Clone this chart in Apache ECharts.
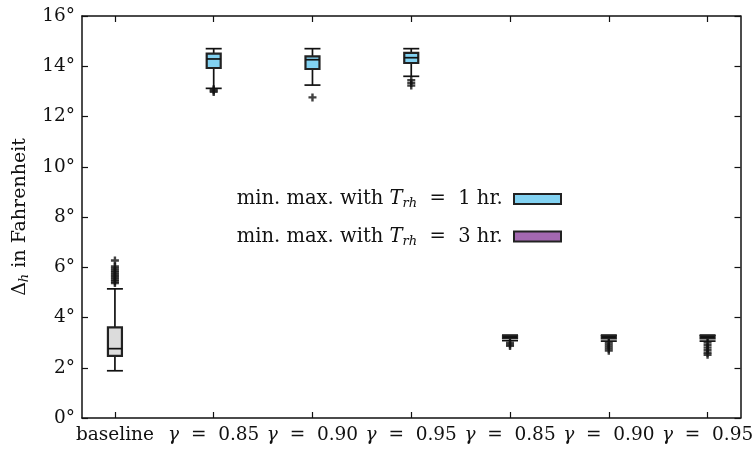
<!DOCTYPE html>
<html>
<head>
<meta charset="utf-8">
<script src="https://cdn.jsdelivr.net/npm/echarts@6/dist/echarts.min.js"></script>
<style>
  html, body { margin: 0; padding: 0; background: #fff; }
  #chart { width: 753px; height: 452px; }
</style>
</head>
<body>
<div id="chart"></div>
<script>
// 카테고리 (x 위치 1..7)
const categories = ['baseline', 'γ = 0.85', 'γ = 0.90', 'γ = 0.95', 'γ = 0.85', 'γ = 0.90', 'γ = 0.95'];
const positions = [1, 2, 3, 4, 5, 6, 7];

// [x, lowWhisker, q1, median, q3, highWhisker]
const baselineBox = [[1, 1.88, 2.47, 2.76, 3.61, 5.14]];
const oneHourBoxes = [
  [2, 13.12, 13.93, 14.29, 14.5, 14.7],
  [3, 13.25, 13.89, 14.26, 14.39, 14.7],
  [4, 13.6, 14.13, 14.34, 14.53, 14.7]
];
const threeHourBoxes = [
  [5, 3.08, 3.18, 3.22, 3.26, 3.3],
  [6, 3.06, 3.17, 3.22, 3.26, 3.3],
  [7, 3.06, 3.17, 3.22, 3.26, 3.3]
];

// 이상치 [x, y]
const baselineOutliers = [[1, 6.27], [1, 6.03], [1, 5.95], [1, 5.87], [1, 5.8], [1, 5.72], [1, 5.65], [1, 5.58], [1, 5.5], [1, 5.43], [1, 5.37]];
const oneHourOutliers = [[2, 13.08], [2, 13.03], [2, 12.98], [3, 12.76], [4, 13.44], [4, 13.33], [4, 13.23]];
const threeHourOutliers = [
  [5, 3.0], [5, 2.93], [5, 2.87],
  [6, 3.0], [6, 2.92], [6, 2.84], [6, 2.76], [6, 2.68],
  [7, 3.0], [7, 2.9], [7, 2.8], [7, 2.7], [7, 2.6], [7, 2.52]
];

const FONT = 'DejaVu Serif';
const PLUS = 'path://M3.5,0H6.5V3.5H10V6.5H6.5V10H3.5V6.5H0V3.5H3.5Z';
const EQ = '  =  ';

/**
 * 박스플롯 하나 그리기
 */
function renderBox(params, api) {
  const x = api.value(0);
  const lo = api.coord([x, api.value(1)]);
  const q1 = api.coord([x, api.value(2)]);
  const med = api.coord([x, api.value(3)]);
  const q3 = api.coord([x, api.value(4)]);
  const hi = api.coord([x, api.value(5)]);
  const fill = api.visual('color');
  const hw = 7;
  const cw = 8;
  const line = { stroke: '#111', lineWidth: 1.7 };
  return {
    type: 'group',
    children: [
      { type: 'line', shape: { x1: lo[0], y1: lo[1], x2: q1[0], y2: q1[1] }, style: line },
      { type: 'line', shape: { x1: q3[0], y1: q3[1], x2: hi[0], y2: hi[1] }, style: line },
      { type: 'line', shape: { x1: lo[0] - cw, y1: lo[1], x2: lo[0] + cw, y2: lo[1] }, style: line },
      { type: 'line', shape: { x1: hi[0] - cw, y1: hi[1], x2: hi[0] + cw, y2: hi[1] }, style: line },
      { type: 'rect', shape: { x: q3[0] - hw, y: q3[1], width: hw * 2, height: q1[1] - q3[1] }, style: { fill: fill, stroke: '#222', lineWidth: 2.2 } },
      { type: 'line', shape: { x1: med[0] - hw, y1: med[1], x2: med[0] + hw, y2: med[1] }, style: line }
    ]
  };
}

const chart = echarts.init(document.getElementById('chart'), null, { renderer: 'canvas' });

const xBase = {
  type: 'value',
  min: 2 / 3,
  max: 22 / 3,
  splitLine: { show: false },
  axisLine: { show: true, onZero: false, lineStyle: { color: '#111', width: 1.5 } },
  axisTick: { show: true, inside: true, length: 6, customValues: positions, lineStyle: { color: '#111', width: 1.2 } }
};
const yBase = {
  type: 'value',
  min: 0,
  max: 16,
  interval: 2,
  splitLine: { show: false },
  axisLine: { show: true, onZero: false, lineStyle: { color: '#111', width: 1.5 } },
  axisTick: { show: true, inside: true, length: 6, lineStyle: { color: '#111', width: 1.2 } }
};

const option = {
  animation: false,
  grid: { left: 82, right: 12.5, top: 16, bottom: 34, outerBoundsMode: 'none', containLabel: false },
  textStyle: { fontFamily: FONT },
  legend: {
    orient: 'vertical',
    right: 186,
    top: 184,
    align: 'right',
    itemWidth: 47,
    itemHeight: 10,
    itemGap: 16,
    icon: 'rect',
    data: ['oneHour', 'threeHour'],
    itemStyle: { borderColor: '#222', borderWidth: 2 },
    formatter: (name) => {
      const h = name === 'oneHour' ? '1' : '3';
      return `min. max. with {i|T}{s|rh}{t|${EQ}${h} hr. }`;
    },
    textStyle: {
      fontFamily: FONT,
      fontSize: 19.5,
      color: '#111',
      rich: {
        i: { fontFamily: FONT, fontSize: 19.5, fontStyle: 'italic', color: '#111' },
        s: { fontFamily: FONT, fontSize: 13, fontStyle: 'italic', color: '#111', padding: [10, 0, 0, 0] },
        t: { fontFamily: FONT, fontSize: 19.5, color: '#111' }
      }
    }
  },
  xAxis: [
    Object.assign({}, xBase, {
      position: 'bottom',
      axisLabel: {
        customValues: positions,
        margin: 8,
        fontFamily: FONT,
        fontSize: 18.5,
        color: '#111',
        formatter: (v) => {
          const c = categories[Math.round(v) - 1] || '';
          if (c.startsWith('γ')) return `{g|γ}${EQ}${c.split('= ')[1]}`;
          return c;
        },
        rich: {
          g: { fontFamily: FONT, fontSize: 18.5, fontStyle: 'italic', color: '#111' }
        }
      }
    }),
    Object.assign({}, xBase, { position: 'top', axisLabel: { show: false } })
  ],
  yAxis: [
    Object.assign({}, yBase, {
      position: 'left',
      name: '{d|Δ}{s|h}{t| in Fahrenheit}',
      nameLocation: 'middle',
      nameGap: 48,
      nameTextStyle: {
        fontFamily: FONT,
        fontSize: 19,
        color: '#111',
        rich: {
          d: { fontFamily: FONT, fontSize: 19, color: '#111' },
          s: { fontFamily: FONT, fontSize: 13, fontStyle: 'italic', color: '#111', padding: [10, 0, 0, 0] },
          t: { fontFamily: FONT, fontSize: 19, color: '#111' }
        }
      },
      axisLabel: { margin: 7, fontFamily: FONT, fontSize: 18.5, color: '#111', formatter: (v) => `${v}°` }
    }),
    Object.assign({}, yBase, { position: 'right', axisLabel: { show: false } })
  ],
  series: [
    {
      name: 'baseline',
      type: 'custom',
      renderItem: renderBox,
      itemStyle: { color: '#dcdcdc' },
      encode: { x: 0, y: [1, 2, 3, 4, 5] },
      data: baselineBox,
      z: 3
    },
    {
      name: 'oneHour',
      type: 'custom',
      renderItem: renderBox,
      itemStyle: { color: '#82d2f2' },
      encode: { x: 0, y: [1, 2, 3, 4, 5] },
      data: oneHourBoxes,
      z: 3
    },
    {
      name: 'threeHour',
      type: 'custom',
      renderItem: renderBox,
      itemStyle: { color: '#a368b0' },
      encode: { x: 0, y: [1, 2, 3, 4, 5] },
      data: threeHourBoxes,
      z: 3
    },
    {
      name: 'outliers',
      type: 'scatter',
      symbol: PLUS,
      symbolSize: 8,
      itemStyle: { color: '#111' },
      data: baselineOutliers.concat(oneHourOutliers, threeHourOutliers),
      z: 4
    }
  ]
};

chart.setOption(option);
</script>
</body>
</html>
